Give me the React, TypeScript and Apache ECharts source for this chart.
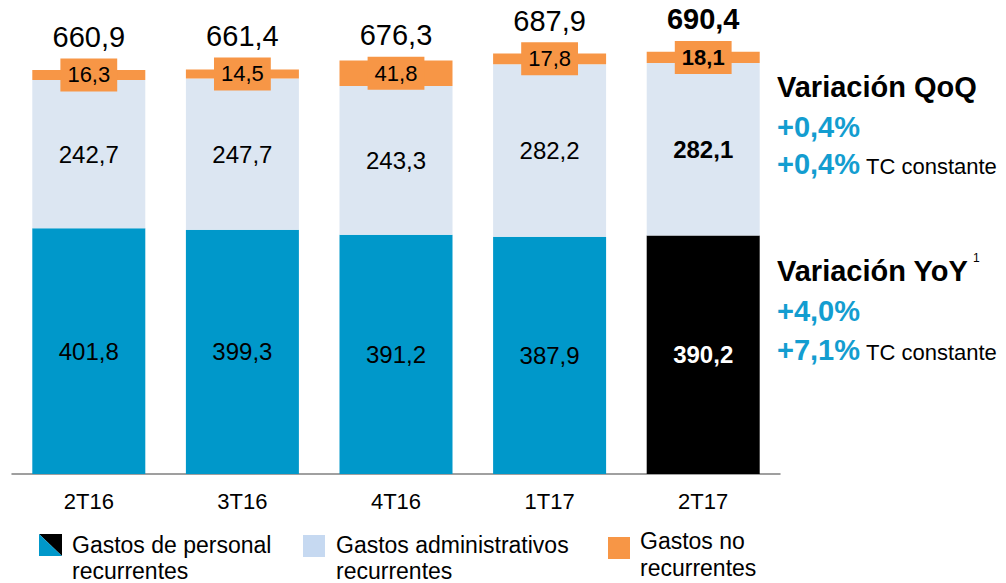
import React, { useEffect, useRef } from "react";
import * as echarts from "echarts";

const categories = ["2T16", "3T16", "4T16", "1T17", "2T17"];
const personal = [401.8, 399.3, 391.2, 387.9, 390.2];
const administrativos = [242.7, 247.7, 243.3, 282.2, 282.1];
const noRecurrentes = [16.3, 14.5, 41.8, 17.8, 18.1];
const totals = [660.9, 661.4, 676.3, 687.9, 690.4];
const legendNames = ["Gastos de personal\nrecurrentes", "Gastos administrativos\nrecurrentes", "Gastos no\nrecurrentes"];
const qoqValues = ["+0,4%", "+0,4%"];
const yoyValues = ["+4,0%", "+7,1%"];

const BLUE = "#0098CA";
const LIGHT = "#DCE6F2";
const ORANGE = "#F79646";
const TEXTBLUE = "#139DD0";
const FONT = "'Liberation Sans', Arial, sans-serif";

const fmt = (v: number) => v.toFixed(1).replace(".", ",");
const last = categories.length - 1;

export default function App() {
  const ref = useRef<HTMLDivElement>(null);
  useEffect(() => {
    const chart = echarts.init(ref.current!, null, { renderer: "svg" });
    chart.setOption({
      animation: false,
      textStyle: { fontFamily: FONT },
      grid: { left: 12, right: 226, top: 46, bottom: 109, containLabel: false },
      xAxis: {
        type: "category",
        data: categories,
        axisLine: { lineStyle: { color: "#808080", width: 1.5 } },
        axisTick: { show: false },
        axisLabel: { fontSize: 22, color: "#000", margin: 16, fontFamily: FONT },
      },
      yAxis: { type: "value", min: 0, max: 700, show: false, splitLine: { show: false } },
      series: [
        {
          type: "bar",
          stack: "s",
          barWidth: 113,
          data: personal.map((v, i) =>
            i === last
              ? { value: v, itemStyle: { color: "#000" }, label: { color: "#fff", fontWeight: "bold" } }
              : v
          ),
          itemStyle: { color: BLUE },
          label: {
            show: true,
            position: "inside",
            fontFamily: FONT,
            formatter: (p: any) => fmt(p.value),
            fontSize: 24,
            color: "#000",
          },
        },
        {
          type: "bar",
          stack: "s",
          barWidth: 113,
          data: administrativos.map((v, i) =>
            i === last ? { value: v, label: { fontWeight: "bold" } } : v
          ),
          itemStyle: { color: LIGHT },
          label: {
            show: true,
            position: "inside",
            fontFamily: FONT,
            fontSize: 24,
            color: "#000",
            formatter: (p: any) => fmt(p.value),
          },
        },
        {
          type: "bar",
          stack: "s",
          barWidth: 113,
          data: noRecurrentes,
          itemStyle: { color: ORANGE },
          label: {
            show: true,
            position: "inside",
            fontFamily: FONT,
            formatter: (p: any) => {
              const b = p.dataIndex === last;
              return `{${b ? "tb" : "t"}|${fmt(totals[p.dataIndex])}}\n{${b ? "vb" : "v"}|${fmt(p.value)}}\n{e|}`;
            },
            rich: {
              t: { fontSize: 29, lineHeight: 43, color: "#000", fontFamily: FONT },
              tb: { fontSize: 29, lineHeight: 43, color: "#000", fontWeight: "bold", fontFamily: FONT },
              v: { fontSize: 22, height: 33, lineHeight: 33, padding: [0, 7], backgroundColor: ORANGE, color: "#000", fontFamily: FONT },
              vb: { fontSize: 22, height: 33, lineHeight: 33, padding: [0, 7], backgroundColor: ORANGE, color: "#000", fontWeight: "bold", fontFamily: FONT },
              e: { lineHeight: 43, height: 43 },
            },
          },
        },
      ],
      graphic: [
        // legend
        { type: "polygon", shape: { points: [[39, 534], [62, 534], [62, 556]] }, style: { fill: "#000" } },
        { type: "polygon", shape: { points: [[39, 534], [39, 556], [62, 556]] }, style: { fill: BLUE } },
        { type: "text", x: 72, y: 532, style: { text: legendNames[0], font: `23px ${FONT}`, fill: "#000", lineHeight: 26 } },
        { type: "rect", shape: { x: 303, y: 535, width: 22, height: 22 }, style: { fill: "#C6D9F1" } },
        { type: "text", x: 336, y: 532, style: { text: legendNames[1], font: `23px ${FONT}`, fill: "#000", lineHeight: 26 } },
        { type: "rect", shape: { x: 608, y: 537, width: 22, height: 22 }, style: { fill: ORANGE } },
        { type: "text", x: 640, y: 527, style: { text: legendNames[2], font: `23px ${FONT}`, fill: "#000", lineHeight: 27 } },
        // right annotations
        { type: "text", x: 777, y: 87, style: { text: "Variación QoQ", font: `bold 29px ${FONT}`, fill: "#000", verticalAlign: "middle" } },
        { type: "text", x: 777, y: 127, style: { text: qoqValues[0], font: `bold 29px ${FONT}`, fill: TEXTBLUE, verticalAlign: "middle" } },
        { type: "text", x: 777, y: 164, style: { text: qoqValues[1], font: `bold 29px ${FONT}`, fill: TEXTBLUE, verticalAlign: "middle" } },
        { type: "text", x: 866, y: 166, style: { text: "TC constante", font: `22px ${FONT}`, fill: "#000", verticalAlign: "middle" } },
        { type: "text", x: 777, y: 271, style: { text: "Variación YoY", font: `bold 29px ${FONT}`, fill: "#000", verticalAlign: "middle" } },
        { type: "text", x: 973, y: 258, style: { text: "1", font: `12px ${FONT}`, fill: "#000", verticalAlign: "middle" } },
        { type: "text", x: 777, y: 311, style: { text: yoyValues[0], font: `bold 29px ${FONT}`, fill: TEXTBLUE, verticalAlign: "middle" } },
        { type: "text", x: 777, y: 350, style: { text: yoyValues[1], font: `bold 29px ${FONT}`, fill: TEXTBLUE, verticalAlign: "middle" } },
        { type: "text", x: 866, y: 352, style: { text: "TC constante", font: `22px ${FONT}`, fill: "#000", verticalAlign: "middle" } },
      ],
    });
    return () => chart.dispose();
  }, []);
  return <div ref={ref} style={{ width: 1006, height: 583, position: "absolute", left: 0, top: 0 }} />;
}
